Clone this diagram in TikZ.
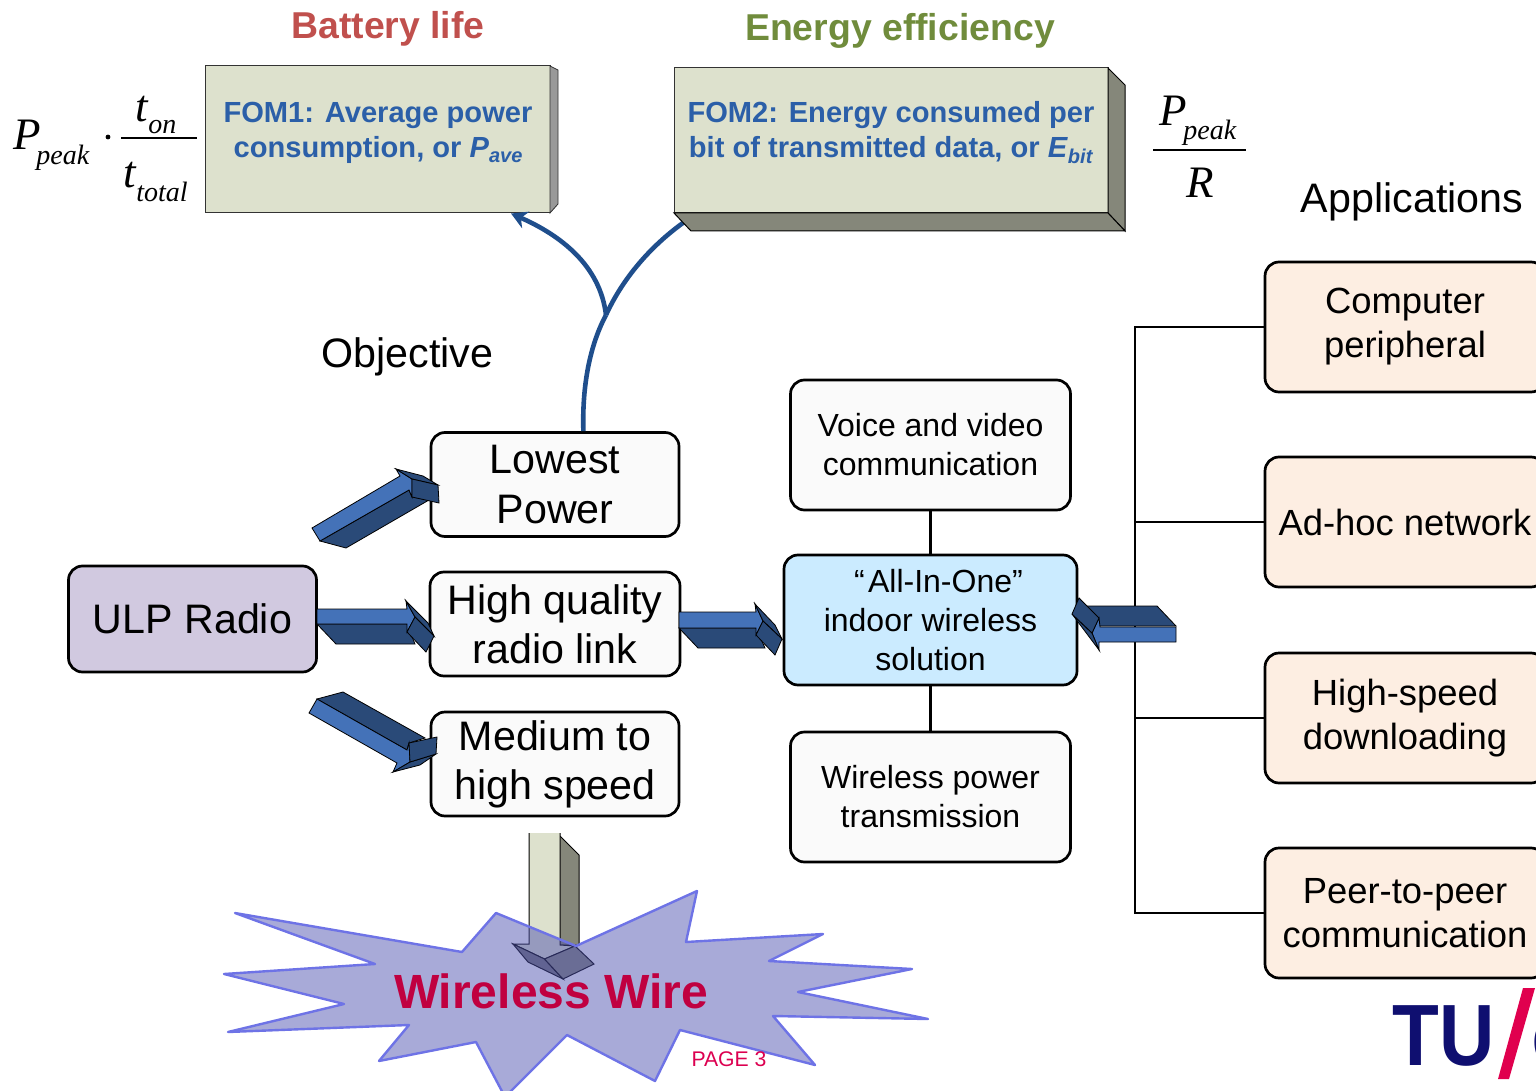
\documentclass[tikz,border=0pt]{standalone}
\usepackage{fontspec}
\setmainfont{Liberation Sans}
\newfontfamily\formulafont{Liberation Serif}
\usepackage[dvipsnames]{xcolor}
\usetikzlibrary{arrows.meta}

\definecolor{fomgreen}{RGB}{221,225,205}
\definecolor{fomshade}{RGB}{133,135,122}
\definecolor{fomblue}{RGB}{43,95,168}
\definecolor{arrowlight}{RGB}{68,114,184}
\definecolor{arrowdark}{RGB}{42,74,120}
\definecolor{curveblue}{RGB}{31,78,140}
\definecolor{starfill}{RGB}{81,85,177}
\definecolor{starline}{RGB}{110,115,230}
\definecolor{radiofill}{RGB}{209,201,224}
\definecolor{appfill}{RGB}{253,238,226}
\definecolor{solutionfill}{RGB}{203,235,255}

\tikzset{
  roundbox/.style={draw=black, line width=1.35pt, rounded corners=7pt, inner sep=0pt, align=center},
  objbox/.style={roundbox, fill=black!2, minimum width=124pt, minimum height=52pt,
    font=\fontsize{20.6}{24.6}\selectfont},
  usebox/.style={roundbox, fill=black!2, minimum width=140pt, minimum height=65pt,
    font=\fontsize{16}{19.5}\selectfont},
  appbox/.style={roundbox, fill=appfill, minimum width=140pt, minimum height=65pt,
    font=\fontsize{18.2}{22}\selectfont},
  fombox/.style={draw=black!80, line width=0.5pt, fill=fomgreen, inner sep=0pt},
  fomtext/.style={text=fomblue, align=center, inner sep=0pt,
    font=\bfseries\fontsize{14.55}{17.5}\selectfont},
  headline/.style={anchor=base, inner sep=0pt, font=\bfseries\fontsize{18.7}{20}\selectfont},
  plainlabel/.style={anchor=base, inner sep=0pt, font=\fontsize{20.6}{24}\selectfont},
  formulabig/.style={anchor=base west, inner sep=0pt, font=\formulafont\itshape\fontsize{22.5}{24}\selectfont},
  formulasub/.style={anchor=base west, inner sep=0pt, font=\formulafont\itshape\fontsize{14}{16}\selectfont},
  lightface/.style={draw=black, line width=0.4pt, fill=arrowlight},
  darkface/.style={draw=black, line width=0.4pt, fill=arrowdark},
  treeline/.style={draw=black, line width=1.4pt},
  curveline/.style={draw=curveblue, line width=2.3pt}
}

\begin{document}
\begin{tikzpicture}[x=0.5pt,y=-0.5pt]
  \useasboundingbox (0,0) rectangle (1536,1091);
  \clip (0,0) rectangle (1536,1091);

  % Objective boxes
  \node[objbox] (lowest) at (555,484.5) {Lowest\\Power};
  \node[objbox, minimum width=125pt] (quality) at (555,624) {High quality\\radio link};
  \node[objbox] (speed) at (555,764) {Medium to\\high speed};
  \node[objbox, fill=radiofill, minimum height=53pt] (radio) at (192.5,619) {ULP Radio};

  % Use boxes
  \node[usebox] (voice) at (930.5,445) {Voice and video\\communication};
  \node[usebox, fill=solutionfill, minimum width=146.5pt] (allone) at (930.5,620) {\hspace{0.5em}“\hspace{0.1em}All-In-One”\\indoor wireless\\solution};
  \node[usebox] (power) at (930.5,797) {Wireless power\\transmission};

  % Applications
  \node[appbox] (peripheral) at (1405,327) {Computer\\peripheral};
  \node[appbox] (adhoc) at (1405,522) {Ad-hoc network};
  \node[appbox] (download) at (1405,718) {High-speed\\downloading};
  \node[appbox] (peer) at (1405,913) {Peer-to-peer\\communication};

  % Tree lines
  \coordinate (trunk) at (1135,620);
  \draw[treeline] (voice.south) -- (allone.north);
  \draw[treeline] (power.north) -- (allone.south);
  \draw[treeline] (peripheral.west) -| (trunk);
  \draw[treeline] (adhoc.west) -| (trunk);
  \draw[treeline] (download.west) -| (trunk);
  \draw[treeline] (peer.west) -| (trunk);

  % Curves
  \coordinate (fork) at (606,315);
  \node[fombox, minimum width=172.5pt, minimum height=73.5pt] (fomone) at (377.5,139.5) {};
  \draw[curveline] (lowest.62) .. controls (582,385) and (590,345) .. (fork);
  \draw[curveline] (fork) .. controls (622,280) and (650,245) .. (690,218);
  \node[fombox, minimum width=217pt, minimum height=72.5pt] (fomtwo) at (891,140.5) {};

  % FOM boxes
  \filldraw[fill=black!40, draw=black!80, line width=0.4pt] (550,66) -- (558,70) -- (558,204) -- (550,213) -- cycle;
  \filldraw[fill=fomshade, draw=black, line width=0.5pt] (1108,68) -- (1125,85) -- (1125,231) -- (1108,213) -- cycle;
  \filldraw[fill=fomshade, draw=black, line width=0.5pt] (674,213) -- (1108,213) -- (1125,231) -- (691,231) -- cycle;
  \draw[curveline, -{Stealth[length=8pt,width=9pt]}] (fork) .. controls (600,265) and (560,235) .. (fomone.-29.4);
  \node[fomtext] (fomonetext) at (378,132.5) {FOM1: Average power\\consumption, or \textit{P}\raisebox{-0.2em}{\fontsize{10}{10}\selectfont\textit{ave}}};
  \node[fomtext] (fomtwotext) at (891,132.5) {FOM2: Energy consumed per\\bit of transmitted data, or \textit{E}\raisebox{-0.2em}{\fontsize{10}{10}\selectfont\textit{bit}}};

  % Labels
  \node[headline, text={rgb,255:red,192;green,80;blue,77}] (battery) at (388,39) {Battery life};
  \node[headline, text={rgb,255:red,112;green,140;blue,60}] (energy) at (900,41) {Energy efficiency};
  \node[plainlabel] (objective) at (407.5,367) {Objective};
  \node[plainlabel] (applications) at (1412,213) {Applications};

  % Formula left
  \node[formulabig] (pleft) at (13,150) {P};
  \node[formulasub] (peakleft) at (36,165) {peak};
  \fill (108,137) circle (1.2pt);
  \node[formulabig] (tonleft) at (135,122) {t};
  \node[formulasub] (onleft) at (148,134) {on};
  \draw[line width=1pt] (121,138) -- (197,138);
  \node[formulabig] (ttotalleft) at (123,188) {t};
  \node[formulasub] (totalleft) at (136,202) {total};

  % Formula right
  \node[formulabig] (pright) at (1159,126) {P};
  \node[formulasub] (peakright) at (1183,140) {peak};
  \draw[line width=1pt] (1153,150) -- (1246,150);
  \node[formulabig] (rright) at (1186,198) {R};

  % Block arrow to lowest power
  \filldraw[darkface] (320,541) -- (409,490) -- (412,497) -- (429,500) -- (346,548) -- cycle;
  \filldraw[lightface] (312,528) -- (400,476) -- (396,469) -- (412,479) -- (412,497) -- (409,490) -- (320,541) -- cycle;
  \filldraw[darkface] (396,469) -- (423,476) -- (438,485) -- (412,479) -- cycle;
  \filldraw[darkface] (412,479) -- (438,485) -- (439,503) -- (412,497) -- cycle;

  % Block arrow to quality
  \filldraw[darkface] (317,624) -- (407,624) -- (415,644) -- (336,644) -- cycle;
  \filldraw[lightface] (317,609) -- (407,609) -- (406,601) -- (415,617) -- (407,632) -- (407,624) -- (317,624) -- cycle;
  \filldraw[darkface] (406,601) -- (428,623) -- (434,636) -- (415,617) -- cycle;
  \filldraw[darkface] (415,617) -- (434,636) -- (426,652) -- (407,632) -- cycle;

  % Block arrow to indoor solution
  \filldraw[darkface] (679,628) -- (756,628) -- (765,648) -- (698,648) -- cycle;
  \filldraw[lightface] (679,612) -- (756,612) -- (755,604) -- (763,621) -- (756,635) -- (756,628) -- (679,628) -- cycle;
  \filldraw[darkface] (755,604) -- (775,625) -- (782,639) -- (763,621) -- cycle;
  \filldraw[darkface] (763,621) -- (782,639) -- (775,655) -- (756,635) -- cycle;

  % Block arrow to speed
  \filldraw[darkface] (317,699) -- (343,692) -- (425,738) -- (409,743) -- (407,750) -- cycle;
  \filldraw[lightface] (309,713) -- (317,699) -- (407,750) -- (409,743) -- (410,762) -- (393,772) -- (397,763) -- cycle;
  \filldraw[darkface] (393,772) -- (410,762) -- (436,754) -- (420,765) -- cycle;
  \filldraw[darkface] (409,743) -- (437,737) -- (436,754) -- (410,762) -- cycle;

  % Block arrow from applications
  \filldraw[darkface] (1085,606) -- (1157,606) -- (1176,626) -- (1099,626) -- (1079,598) -- cycle;
  \filldraw[lightface] (1176,627) -- (1100,627) -- (1099,618) -- (1092,633) -- (1099,650) -- (1099,642) -- (1176,642) -- cycle;
  \filldraw[darkface] (1072,614) -- (1092,633) -- (1099,650) -- cycle;
  \filldraw[darkface] (1079,598) -- (1099,618) -- (1092,633) -- (1072,614) -- cycle;

  % Block arrow to the star
  \fill[fomshade] (560,836) -- (579,855) -- (579,945) -- (560,945) -- cycle;
  \draw[line width=0.5pt] (560,836) -- (579,855) -- (579,945) -- (560,945);
  \fill[fomgreen] (529,833) -- (560,833) -- (560,945) -- (575,946) -- (544.5,959) -- (513,944) -- (529,944) -- cycle;
  \draw[line width=0.5pt] (529,833) -- (529,944) -- (513,944) -- (544.5,959) -- (575,946) -- (560,945) -- (560,833);
  \filldraw[fill=black!55, line width=0.5pt] (513,944) -- (544.5,959) -- (563,979) -- (528,962) -- cycle;
  \filldraw[fill=fomshade, line width=0.5pt] (544.5,959) -- (575,946) -- (594,964) -- (563,979) -- cycle;

  % Star
  \filldraw[fill=starfill, fill opacity=0.5, draw=starline, line width=1.2pt, line join=round]
    (235,913) -- (462,952) -- (496,913) -- (576,946) -- (697,891) -- (686,942)
    -- (823,934) -- (769,961) -- (912,969) -- (798,992) -- (928,1019) -- (773,1016)
    -- (815,1065) -- (680,1030) -- (655,1081) -- (567,1035) -- (505,1097) -- (476,1042)
    -- (379,1061) -- (409,1025) -- (228,1032) -- (344,1004) -- (224,974) -- (375,964) -- cycle;
  \node[anchor=base, inner sep=0pt, text={rgb,255:red,192;green,0;blue,64},
    font=\bfseries\fontsize{24}{26}\selectfont] (wire) at (551,1008) {Wireless Wire};
  \node[anchor=base, inner sep=0pt, text={rgb,255:red,220;green,0;blue,80},
    font=\fontsize{10.6}{12}\selectfont] (pagenum) at (729,1066) {PAGE 3};

  % Logo
  \node[anchor=base west, inner sep=0pt, xscale=0.88, text={rgb,255:red,15;green,15;blue,112},
    font=\bfseries\fontsize{43.5}{44}\selectfont] (logotu) at (1392,1065) {TU};
  \fill[fill={rgb,255:red,224;green,0;blue,78}] (1498,1079) -- (1523,988) -- (1535,988) -- (1509,1079) -- cycle;
  \node[anchor=base west, inner sep=0pt, text={rgb,255:red,15;green,15;blue,112},
    font=\bfseries\fontsize{43.5}{44}\selectfont] (logoe) at (1531,1065) {e};
\end{tikzpicture}
\end{document}
